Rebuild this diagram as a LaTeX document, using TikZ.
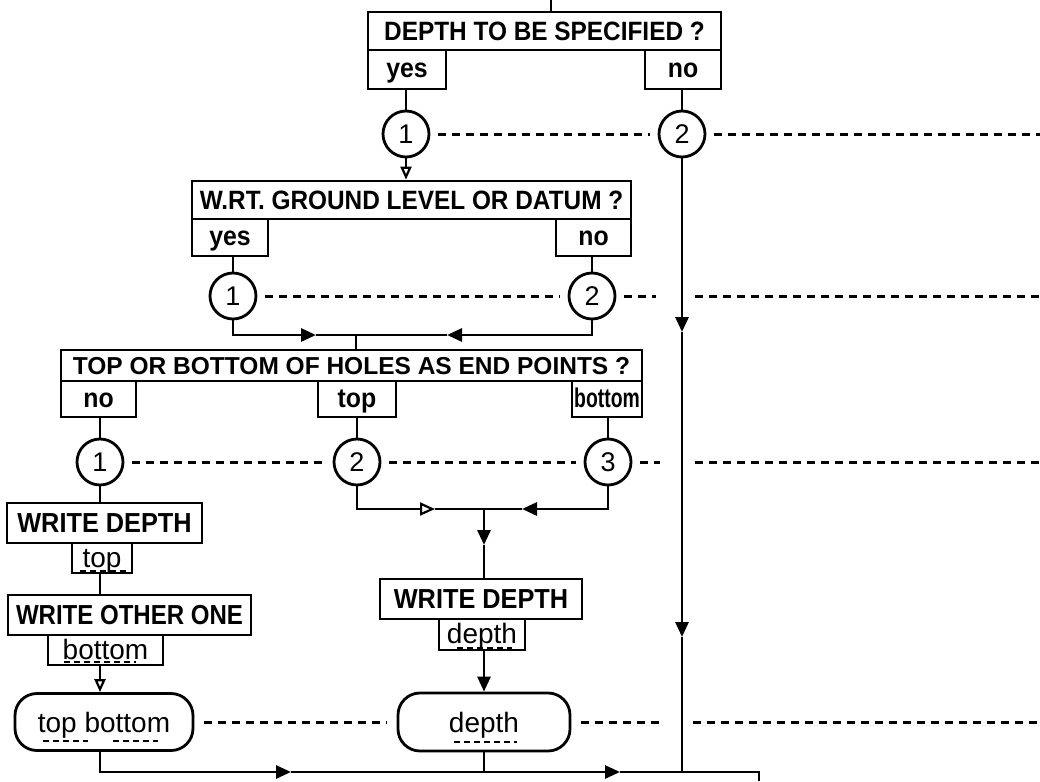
\documentclass[tikz,border=0pt]{standalone}
\usepackage{fontspec}
\setmainfont{Liberation Sans}
\newfontfamily\condf{Liberation Sans}[FakeStretch=0.92]
\usetikzlibrary{arrows.meta,calc}
\begin{document}
\begin{tikzpicture}[x=1pt,y=-1pt,
  lw/.style={line width=2.8pt},
  box/.style={draw, lw, inner sep=0pt, text height=19pt, text depth=0pt, font=\condf\bfseries\fontsize{26.5}{28}\selectfont},
  widebox/.style={box, text height=17.5pt, font=\bfseries\fontsize{24.5}{26}\selectfont},
  act/.style={box, text height=19.7pt, font=\condf\bfseries\fontsize{27.5}{29}\selectfont},
  lab/.style={draw, lw, inner sep=0pt, text height=16pt, text depth=0pt, font=\condf\bfseries\fontsize{27}{28}\selectfont},
  var/.style={draw, lw, inner sep=0pt, text height=18.5pt, text depth=0pt, font=\fontsize{28}{30}\selectfont},
  conn/.style={draw, lw, circle, minimum size=46pt, inner sep=0pt, text height=19.3pt, text depth=0pt, font=\fontsize{27}{28}\selectfont},
  term/.style={draw, lw, rounded corners=22pt, inner sep=0pt, text height=20pt, text depth=0pt, font=\fontsize{28}{30}\selectfont},
  flow/.style={lw},
  dashline/.style={line width=3pt, dash pattern=on 8pt off 6pt},
  uline/.style={line width=2.8pt, dash pattern=on 6pt off 4pt},
  tri/.style={-{Triangle[length=15pt,width=13pt]}},
  otri/.style={-{Triangle[open,length=13pt,width=11pt,line width=2.2pt]}},
  otribig/.style={-{Triangle[open,length=15pt,width=13pt,line width=2.2pt]}},
]
\useasboundingbox (0,0) rectangle (1040,781);

% ---- decision 1
\node[box, minimum width=353pt, minimum height=38pt] (q1) at (544.5,31) {DEPTH TO BE SPECIFIED ?};
\node[lab, minimum width=78pt, minimum height=39pt] (q1y) at (407,69.5) {yes};
\node[lab, minimum width=76pt, minimum height=39pt] (q1n) at (683,69.5) {no};
\node[conn] (c11) at (406,134) {1};
\node[conn] (c12) at (682,134) {2};

% ---- decision 2
\node[box, minimum width=439pt, minimum height=38pt] (q2) at (411.5,200) {W.RT. GROUND LEVEL OR DATUM ?};
\node[lab, minimum width=76pt, minimum height=37pt] (q2y) at (230,237.5) {yes};
\node[lab, minimum width=75pt, minimum height=37pt] (q2n) at (593.5,237.5) {no};
\node[conn] (c21) at (233,296) {1};
\node[conn] (c22) at (592,296) {2};

% ---- decision 3
\node[widebox, minimum width=581pt, minimum height=31pt] (q3) at (351.5,365.5) {TOP OR BOTTOM OF HOLES AS END POINTS ?};
\node[lab, minimum width=75pt, minimum height=36pt] (q3n) at (98.5,399) {no};
\node[lab, minimum width=78pt, minimum height=36pt] (q3t) at (357,399) {top};
\node[lab, minimum width=70pt, minimum height=36pt] (q3b) at (607,399) {\scalebox{0.78}[1]{bottom}};
\node[conn] (c31) at (100,462) {1};
\node[conn] (c32) at (357,462) {2};
\node[conn] (c33) at (608,462) {3};

% ---- actions
\node[act, minimum width=195pt, minimum height=40pt] (w1) at (104.5,523) {WRITE DEPTH};
\node[var, minimum width=60pt, minimum height=30pt] (w1s) at (102,558) {top};
\node[act, minimum width=243pt, minimum height=40pt] (w2) at (129.5,615) {\scalebox{0.95}[1]{WRITE OTHER ONE}};
\node[var, minimum width=115pt, minimum height=30pt] (w2s) at (105.5,650) {bottom};
\node[term, minimum width=178pt, minimum height=57pt] (r1) at (104,722) {top bottom};
\node[act, minimum width=202pt, minimum height=40pt] (w3) at (481,599) {WRITE DEPTH};
\node[var, minimum width=86pt, minimum height=31pt] (w3s) at (482,634.5) {depth};
\node[term, minimum width=172pt, minimum height=58pt] (r2) at (484,722) {depth};

% ---- coordinates
\coordinate (top) at (551,0);
\coordinate (e1) at (1040,134);
\coordinate (v1) at (682,332);
\coordinate (v2) at (682,637);
\coordinate (v3) at (682,772);
\coordinate (m1) at (356,335);
\coordinate (m1a) at (316,335);
\coordinate (m1b) at (447,335);
\coordinate (g2a) at (656,296);
\coordinate (g2b) at (695,296);
\coordinate (e2) at (1040,296);
\coordinate (m2) at (484,509);
\coordinate (m2a) at (435,509);
\coordinate (m2b) at (522,509);
\coordinate (m2c) at (484,545);
\coordinate (g3a) at (660,462);
\coordinate (g3b) at (695,462);
\coordinate (e3) at (1040,462);
\coordinate (g4a) at (664,722);
\coordinate (g4b) at (693,722);
\coordinate (e4) at (1040,722);
\coordinate (b1) at (291,772);
\coordinate (b2) at (620,772);
\coordinate (b3) at (759,772);
\coordinate (b4) at (759,781);

% ---- solid connectors
\draw[flow] (top) -- (top |- q1.north);
\draw[flow] (c11.north |- q1y.south) -- (c11.north);
\draw[flow] (c12.north |- q1n.south) -- (c12.north);
\draw[flow,otri] (c11.south) -- (c11.south |- q2.north);
\draw[flow,tri] (c12.south) -- (v1);
\draw[flow,tri] (v1) -- (v2);
\draw[flow] (v2) -- (v3);

\draw[flow] (c21.north |- q2y.south) -- (c21.north);
\draw[flow] (c22.north |- q2n.south) -- (c22.north);
\draw[flow,tri] (c21.south) |- (m1a);
\draw[flow] (m1a) -- (m1);
\draw[flow,tri] (c22.south) |- (m1b);
\draw[flow] (m1b) -- (m1);
\draw[flow] (m1) -- (m1 |- q3.north);

\draw[flow] (c31.north |- q3n.south) -- (c31.north);
\draw[flow] (c32.north |- q3t.south) -- (c32.north);
\draw[flow] (c33.north |- q3b.south) -- (c33.north);
\draw[flow,otribig] (c32.south) |- (m2a);
\draw[flow] (m2a) -- (m2);
\draw[flow,tri] (c33.south) |- (m2b);
\draw[flow] (m2b) -- (m2);
\draw[flow,tri] (m2) -- (m2c);
\draw[flow] (m2c) -- (m2c |- w3.north);
\draw[flow,tri] (m2c |- w3s.south) -- (m2c |- r2.north);

\draw[flow] (c31.south) -- (c31.south |- w1.north);
\draw[flow] (c31 |- w1s.south) -- (c31 |- w2.north);
\draw[flow,otri] (c31 |- w2s.south) -- (c31 |- r1.north);
\draw[flow,tri] (r1.south -| c31) |- (b1);
\draw[flow,tri] (b1) -- (b2);
\draw[flow] (b2) -- (b3) -- (b4);
\draw[flow] (r2.south) -- (r2.south |- v3);

% ---- dashed links
\draw[dashline, shorten <=8pt, shorten >=8pt] (c11.east) -- (c12.west);
\draw[dashline, shorten <=8pt] (c12.east) -- (e1);
\draw[dashline, shorten <=8pt, shorten >=8pt] (c21.east) -- (c22.west);
\draw[dashline, shorten <=8pt] (c22.east) -- (g2a);
\draw[dashline] (g2b) -- (e2);
\draw[dashline, shorten <=8pt, shorten >=8pt] (c31.east) -- (c32.west);
\draw[dashline, shorten <=8pt, shorten >=8pt] (c32.east) -- (c33.west);
\draw[dashline, shorten <=8pt] (c33.east) -- (g3a);
\draw[dashline] (g3b) -- (e3);
\draw[dashline, shorten <=10pt, shorten >=10pt] (r1.east) -- (r2.west);
\draw[dashline, shorten <=10pt] (r2.east) -- (g4a);
\draw[dashline] (g4b) -- (e4);

% ---- underlines of variable names
\draw[uline] (80,571) -- (126,571);
\draw[uline] (64,662) -- (136,662);
\draw[uline] (43,741) -- (88,741);
\draw[uline] (113,741) -- (158,741);
\draw[uline] (457,648) -- (512,648);
\draw[uline] (454,742) -- (517,742);
\end{tikzpicture}
\end{document}
